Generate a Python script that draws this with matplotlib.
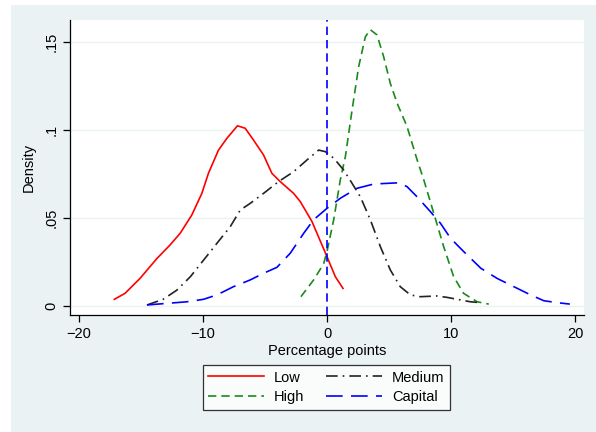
import matplotlib
matplotlib.use("Agg")
import matplotlib.pyplot as plt
from matplotlib.patches import Rectangle

plt.rcParams['font.family'] = ['Liberation Sans', 'DejaVu Sans']

# density curves (x in percentage points, y density)
low_x = [-17.13, -16.27, -15.06, -13.7, -12.64, -11.83, -10.89, -10.08, -9.55, -8.74, -8.06,
         -7.21, -6.59, -5.92, -5.11, -4.44, -3.77, -2.69, -2.15, -1.21, 0.0, 0.67, 1.29]
low_y = [0.0038, 0.0072, 0.0157, 0.027, 0.0347, 0.0413, 0.0517, 0.064, 0.0754, 0.0886, 0.0953,
         0.1024, 0.101, 0.0943, 0.0858, 0.0754, 0.0707, 0.064, 0.0593, 0.048, 0.028, 0.0167, 0.010]

high_x = [-2.1, -1.08, -0.27, 0.0, 0.54, 1.07, 1.48, 2.02, 2.55, 3.09, 3.49, 4.03, 4.56, 5.1,
          5.65, 6.45, 7.26, 7.8, 8.6, 9.4, 10.2, 11.0, 12.1, 13.03]
high_y = [0.0053, 0.0148, 0.024, 0.031, 0.049, 0.0716, 0.0849, 0.1114, 0.136, 0.153, 0.157,
          0.154, 0.1417, 0.1265, 0.1152, 0.1019, 0.083, 0.0716, 0.0527, 0.0337, 0.0167, 0.0072,
          0.0024, 0.0011]

med_x = [-14.5, -13.2, -12.1, -11.0, -9.95, -8.87, -7.8, -6.99, -6.19, -5.11, -3.9, -2.69,
         -1.61, -0.67, -0.13, 0.54, 1.34, 2.02, 2.69, 3.49, 4.3, 5.1, 5.9, 6.72, 7.5, 8.87,
         9.68, 10.5, 11.56, 12.4]
med_y = [0.0006, 0.0038, 0.009, 0.0167, 0.026, 0.0356, 0.045, 0.0545, 0.0583, 0.064, 0.0707,
         0.0763, 0.083, 0.0886, 0.0877, 0.084, 0.0773, 0.0697, 0.062, 0.049, 0.0337, 0.0205,
         0.011, 0.0063, 0.0053, 0.0057, 0.0049, 0.0038, 0.0024, 0.0019]

cap_x = [-14.5, -12.9, -11.3, -9.95, -8.87, -7.53, -6.19, -5.11, -4.03, -2.96, -1.88, -1.08,
         0.0, 1.07, 2.42, 3.76, 4.84, 5.78, 6.45, 7.26, 8.33, 9.14, 9.95, 11.0, 12.4, 13.7,
         15.05, 16.4, 17.47, 18.55, 19.56]
cap_y = [0.0006, 0.0015, 0.0024, 0.0038, 0.0063, 0.011, 0.0148, 0.0186, 0.022, 0.03, 0.0413,
         0.049, 0.0555, 0.0612, 0.0669, 0.0693, 0.0697, 0.07, 0.0678, 0.062, 0.0536, 0.047,
         0.0385, 0.031, 0.0214, 0.0157, 0.011, 0.0063, 0.003, 0.0019, 0.0011]

xticks = [-20, -10, 0, 10, 20]
yticks = [0, 0.05, 0.1, 0.15]
ytick_labels = ['0', '.05', '.1', '.15']

bg = '#eaf2f3'
fig = plt.figure(figsize=(5.96, 4.32), dpi=100)
fig.patch.set_facecolor('white')
fig.patches.append(Rectangle((11 / 596, 0), 1, 1 - 5 / 432, transform=fig.transFigure,
                             facecolor=bg, edgecolor='none', zorder=-10))

ax = fig.add_axes([70 / 596, 1 - 315 / 432, 514 / 596, 295 / 432])
ax.set_facecolor('white')

ax.plot(low_x, low_y, color='#ff0000', lw=1.2, label='Low')
ax.plot(high_x, high_y, color='#1a8a1a', lw=1.2, dashes=(5, 3), label='High')
ax.plot(med_x, med_y, color='#222222', lw=1.2, dashes=(7, 3, 1, 3), label='Medium')
ax.plot(cap_x, cap_y, color='#0000ff', lw=1.2, dashes=(10, 5), label='Capital')
ax.axvline(0, color='#0000ff', lw=1.2, dashes=(5, 3))

ax.set_xlim(-20.7, 20.7)
ax.set_ylim(-0.0051, 0.1625)
ax.set_xticks(xticks)
ax.set_xticklabels(['\u221220', '\u221210', '0', '10', '20'])
ax.set_yticks(yticks)
ax.set_yticklabels(ytick_labels, rotation=90, va='center')
ax.grid(axis='y', color=bg, lw=1.0)
ax.set_axisbelow(True)
for s in ['top', 'right']:
    ax.spines[s].set_visible(False)
for s in ['left', 'bottom']:
    ax.spines[s].set_color('black')
    ax.spines[s].set_linewidth(0.9)
ax.tick_params(length=5, width=0.9, labelsize=10.5, colors='black')
ax.set_xlabel('Percentage points', fontsize=10.5, labelpad=2)
ax.set_ylabel('Density', fontsize=10.5, labelpad=6)

h, l = ax.get_legend_handles_labels()
leg = fig.legend(h, l, loc='center', bbox_to_anchor=(326.5 / 596, 1 - 387.5 / 432), ncol=2,
                 fontsize=10.5, frameon=True, fancybox=False, handlelength=3.8,
                 columnspacing=1.5, handletextpad=0.7, borderpad=0.4, labelspacing=0.4,
                 borderaxespad=0)
leg.get_frame().set_edgecolor('black')
leg.get_frame().set_linewidth(0.9)

fig.savefig('out.png', dpi=100, facecolor=fig.get_facecolor())
